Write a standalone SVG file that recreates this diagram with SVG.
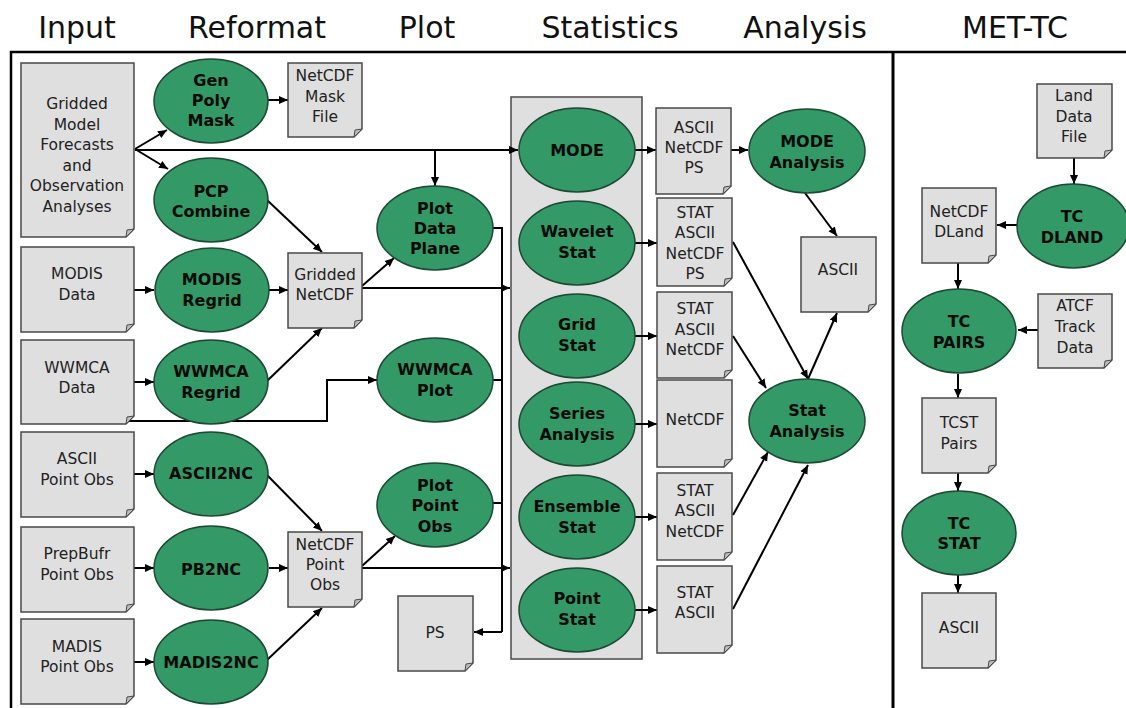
<svg xmlns="http://www.w3.org/2000/svg" width="1126" height="708" viewBox="0 0 1126 708">
<defs>
<style>
.doc{fill:#dfdfdf;stroke:#4a4a4a;stroke-width:1.5}
.fold{fill:#bdbdbd;stroke:#4a4a4a;stroke-width:1}
.proc{fill:#339966;stroke:#1d4a33;stroke-width:1.5}
.box{fill:#dfdfdf;stroke:#4a4a4a;stroke-width:1.5}
.t{font-family:"DejaVu Sans",Verdana,sans-serif;font-size:15.5px;fill:#222;text-anchor:middle}
.b{font-family:"DejaVu Sans",Verdana,sans-serif;font-size:16px;font-weight:bold;fill:#0a0a0a;text-anchor:middle}
.h{font-family:"DejaVu Sans",Verdana,sans-serif;font-size:30px;fill:#111;text-anchor:middle}
.c{fill:none;stroke:#000;stroke-width:2}
.ca{fill:none;stroke:#000;stroke-width:2;marker-end:url(#ah)}
.frame{fill:none;stroke:#000;stroke-width:2.5}
</style>
<marker id="ah" markerWidth="10" markerHeight="10" refX="9" refY="5" orient="auto" markerUnits="userSpaceOnUse">
<path d="M0,1 L9,5 L0,9 z" fill="#000"/>
</marker>
</defs>
<rect width="1126" height="708" fill="#fff"/>

<g id="headers">
<text class="h" x="77" y="38">Input</text>
<text class="h" x="257" y="38">Reformat</text>
<text class="h" x="427" y="38">Plot</text>
<text class="h" x="610" y="38">Statistics</text>
<text class="h" x="805" y="38">Analysis</text>
<text class="h" x="1015" y="38">MET-TC</text>
</g>

<g id="frame">
<path class="frame" d="M11,708 V52 H1126"/>
<path d="M893,52 V708" stroke="#000" stroke-width="3" fill="none"/>
</g>

<g id="stats-container">
<rect class="box" x="511" y="97" width="131" height="562"/>
</g>

<g id="connectors">
<path class="ca" d="M135,149 L167,130"/>
<path class="ca" d="M135,149 L168,169"/>
<path class="ca" d="M135,150 H518"/>
<path class="ca" d="M435,150 V186"/>
<path class="ca" d="M268,100 H288"/>
<path class="ca" d="M267,200 L322,252"/>
<path class="ca" d="M134,290 H154"/>
<path class="ca" d="M269,290 H288"/>
<path class="ca" d="M267,381 L322,328"/>
<path class="ca" d="M362,286 L394,258"/>
<path class="ca" d="M362,288 H510"/>
<path class="ca" d="M134,382 H154"/>
<path class="ca" d="M129,421 H327 V380 H377"/>
<path class="c" d="M493,228 H502 V632"/>
<path class="c" d="M493,380 H502"/>
<path class="c" d="M493,503 H502"/>
<path class="ca" d="M502,632 H474"/>
<path class="ca" d="M134,474 H154"/>
<path class="ca" d="M134,568 H154"/>
<path class="ca" d="M134,662 H154"/>
<path class="ca" d="M267,475 L322,531"/>
<path class="ca" d="M269,568 H288"/>
<path class="ca" d="M267,660 L322,608"/>
<path class="ca" d="M362,566 L395,536"/>
<path class="ca" d="M362,568 H510"/>
<path class="ca" d="M635,150 H656"/>
<path class="ca" d="M635,243 H657"/>
<path class="ca" d="M635,336 H657"/>
<path class="ca" d="M635,424 H657"/>
<path class="ca" d="M635,517 H657"/>
<path class="ca" d="M635,610 H657"/>
<path class="ca" d="M731,150 H748"/>
<path class="ca" d="M805,193 L837,236"/>
<path class="ca" d="M808,379 L837,313"/>
<path class="ca" d="M733,242 L808,379"/>
<path class="ca" d="M733,336 L766,388"/>
<path class="ca" d="M733,515 L768,452"/>
<path class="ca" d="M733,609 L808,465"/>
<path class="ca" d="M1074,158 V184"/>
<path class="ca" d="M1017,225 H997"/>
<path class="ca" d="M958,263 V289"/>
<path class="ca" d="M1038,330 H1018"/>
<path class="ca" d="M958,374 V398"/>
<path class="ca" d="M958,473 V491"/>
<path class="ca" d="M958,575 V593"/>
</g>

<g id="n-gridded">
<path class="doc" d="M21,63 H134 V229 L126,237 H21 Z"/><path class="fold" d="M134,229 L126,237 L127,230 Z"/>
<text class="t" x="77" y="109">Gridded</text><text class="t" x="77" y="130">Model</text><text class="t" x="77" y="150">Forecasts</text><text class="t" x="77" y="171">and</text><text class="t" x="77" y="191">Observation</text><text class="t" x="77" y="212">Analyses</text>
</g>
<g id="n-modis-data">
<path class="doc" d="M21,247 H134 V324 L126,332 H21 Z"/><path class="fold" d="M134,324 L126,332 L127,325 Z"/>
<text class="t" x="77" y="279">MODIS</text><text class="t" x="77" y="300">Data</text>
</g>
<g id="n-wwmca-data">
<path class="doc" d="M21,340 H134 V416 L126,424 H21 Z"/><path class="fold" d="M134,416 L126,424 L127,417 Z"/>
<text class="t" x="77" y="373">WWMCA</text><text class="t" x="77" y="393">Data</text>
</g>
<g id="n-ascii-obs">
<path class="doc" d="M21,432 H134 V509 L126,517 H21 Z"/><path class="fold" d="M134,509 L126,517 L127,510 Z"/>
<text class="t" x="77" y="464">ASCII</text><text class="t" x="77" y="485">Point Obs</text>
</g>
<g id="n-prepbufr">
<path class="doc" d="M21,527 H134 V604 L126,612 H21 Z"/><path class="fold" d="M134,604 L126,612 L127,605 Z"/>
<text class="t" x="77" y="559">PrepBufr</text><text class="t" x="77" y="580">Point Obs</text>
</g>
<g id="n-madis">
<path class="doc" d="M21,619 H134 V696 L126,704 H21 Z"/><path class="fold" d="M134,696 L126,704 L127,697 Z"/>
<text class="t" x="77" y="652">MADIS</text><text class="t" x="77" y="672">Point Obs</text>
</g>

<g id="n-genpoly"><ellipse class="proc" cx="211" cy="101" rx="57" ry="42"/>
<text class="b" x="211" y="86">Gen</text><text class="b" x="211" y="106">Poly</text><text class="b" x="211" y="126">Mask</text></g>
<g id="n-pcp"><ellipse class="proc" cx="211" cy="200" rx="57" ry="42"/>
<text class="b" x="211" y="197">PCP</text><text class="b" x="211" y="217">Combine</text></g>
<g id="n-modis-regrid"><ellipse class="proc" cx="212" cy="290" rx="57" ry="42"/>
<text class="b" x="212" y="285">MODIS</text><text class="b" x="212" y="306">Regrid</text></g>
<g id="n-wwmca-regrid"><ellipse class="proc" cx="211" cy="382" rx="57" ry="42"/>
<text class="b" x="211" y="377">WWMCA</text><text class="b" x="211" y="398">Regrid</text></g>
<g id="n-ascii2nc"><ellipse class="proc" cx="211" cy="474" rx="57" ry="42"/>
<text class="b" x="211" y="479">ASCII2NC</text></g>
<g id="n-pb2nc"><ellipse class="proc" cx="211" cy="568" rx="57" ry="42"/>
<text class="b" x="211" y="575">PB2NC</text></g>
<g id="n-madis2nc"><ellipse class="proc" cx="211" cy="662" rx="57" ry="42"/>
<text class="b" x="211" y="668">MADIS2NC</text></g>

<g id="n-maskfile">
<path class="doc" d="M288,63 H362 V129 L354,137 H288 Z"/><path class="fold" d="M362,129 L354,137 L355,130 Z"/>
<text class="t" x="325" y="81">NetCDF</text><text class="t" x="325" y="102">Mask</text><text class="t" x="325" y="122">File</text>
</g>
<g id="n-gridded-netcdf">
<path class="doc" d="M288,253 H362 V320 L354,328 H288 Z"/><path class="fold" d="M362,320 L354,328 L355,321 Z"/>
<text class="t" x="325" y="280">Gridded</text><text class="t" x="325" y="300">NetCDF</text>
</g>
<g id="n-point-netcdf">
<path class="doc" d="M288,532 H362 V599 L354,607 H288 Z"/><path class="fold" d="M362,599 L354,607 L355,600 Z"/>
<text class="t" x="325" y="550">NetCDF</text><text class="t" x="325" y="570">Point</text><text class="t" x="325" y="590">Obs</text>
</g>

<g id="n-plot-data-plane"><ellipse class="proc" cx="435" cy="228" rx="58" ry="42"/>
<text class="b" x="435" y="214">Plot</text><text class="b" x="435" y="234">Data</text><text class="b" x="435" y="254">Plane</text></g>
<g id="n-wwmca-plot"><ellipse class="proc" cx="435" cy="380" rx="58" ry="42"/>
<text class="b" x="435" y="375">WWMCA</text><text class="b" x="435" y="396">Plot</text></g>
<g id="n-plot-point-obs"><ellipse class="proc" cx="435" cy="505" rx="58" ry="42"/>
<text class="b" x="435" y="491">Plot</text><text class="b" x="435" y="511">Point</text><text class="b" x="435" y="532">Obs</text></g>
<g id="n-ps">
<path class="doc" d="M398,596 H473 V663 L465,671 H398 Z"/><path class="fold" d="M473,663 L465,671 L466,664 Z"/>
<text class="t" x="435" y="638">PS</text>
</g>

<g id="n-mode"><ellipse class="proc" cx="577" cy="150" rx="58" ry="42"/>
<text class="b" x="577" y="156">MODE</text></g>
<g id="n-wavelet"><ellipse class="proc" cx="577" cy="243" rx="58" ry="42"/>
<text class="b" x="577" y="237">Wavelet</text><text class="b" x="577" y="258">Stat</text></g>
<g id="n-grid-stat"><ellipse class="proc" cx="577" cy="336" rx="58" ry="42"/>
<text class="b" x="577" y="330">Grid</text><text class="b" x="577" y="351">Stat</text></g>
<g id="n-series"><ellipse class="proc" cx="577" cy="424" rx="58" ry="42"/>
<text class="b" x="577" y="419">Series</text><text class="b" x="577" y="440">Analysis</text></g>
<g id="n-ensemble"><ellipse class="proc" cx="577" cy="517" rx="58" ry="42"/>
<text class="b" x="577" y="512">Ensemble</text><text class="b" x="577" y="533">Stat</text></g>
<g id="n-point-stat"><ellipse class="proc" cx="577" cy="610" rx="58" ry="42"/>
<text class="b" x="577" y="604">Point</text><text class="b" x="577" y="625">Stat</text></g>

<g id="n-out-mode">
<path class="doc" d="M656,108 H731 V186 L723,194 H656 Z"/><path class="fold" d="M731,186 L723,194 L724,187 Z"/>
<text class="t" x="694" y="133">ASCII</text><text class="t" x="694" y="153">NetCDF</text><text class="t" x="694" y="173">PS</text>
</g>
<g id="n-out-wavelet">
<path class="doc" d="M657,198 H732 V278 L724,286 H657 Z"/><path class="fold" d="M732,278 L724,286 L725,279 Z"/>
<text class="t" x="695" y="218">STAT</text><text class="t" x="695" y="238">ASCII</text><text class="t" x="695" y="259">NetCDF</text><text class="t" x="695" y="279">PS</text>
</g>
<g id="n-out-grid">
<path class="doc" d="M657,292 H732 V370 L724,378 H657 Z"/><path class="fold" d="M732,370 L724,378 L725,371 Z"/>
<text class="t" x="695" y="314">STAT</text><text class="t" x="695" y="335">ASCII</text><text class="t" x="695" y="355">NetCDF</text>
</g>
<g id="n-out-series">
<path class="doc" d="M657,380 H732 V459 L724,467 H657 Z"/><path class="fold" d="M732,459 L724,467 L725,460 Z"/>
<text class="t" x="695" y="425">NetCDF</text>
</g>
<g id="n-out-ensemble">
<path class="doc" d="M657,473 H732 V552 L724,560 H657 Z"/><path class="fold" d="M732,552 L724,560 L725,553 Z"/>
<text class="t" x="695" y="496">STAT</text><text class="t" x="695" y="516">ASCII</text><text class="t" x="695" y="537">NetCDF</text>
</g>
<g id="n-out-point">
<path class="doc" d="M657,566 H732 V645 L724,653 H657 Z"/><path class="fold" d="M732,645 L724,653 L725,646 Z"/>
<text class="t" x="695" y="598">STAT</text><text class="t" x="695" y="618">ASCII</text>
</g>

<g id="n-mode-analysis"><ellipse class="proc" cx="807" cy="151" rx="58" ry="42"/>
<text class="b" x="807" y="147">MODE</text><text class="b" x="807" y="168">Analysis</text></g>
<g id="n-ascii-analysis">
<path class="doc" d="M801,237 H876 V304 L868,312 H801 Z"/><path class="fold" d="M876,304 L868,312 L869,305 Z"/>
<text class="t" x="838" y="275">ASCII</text>
</g>
<g id="n-stat-analysis"><ellipse class="proc" cx="807" cy="421" rx="58" ry="42"/>
<text class="b" x="807" y="416">Stat</text><text class="b" x="807" y="437">Analysis</text></g>

<g id="n-land">
<path class="doc" d="M1037,84 H1112 V150 L1104,158 H1037 Z"/><path class="fold" d="M1112,150 L1104,158 L1105,151 Z"/>
<text class="t" x="1074" y="101">Land</text><text class="t" x="1074" y="122">Data</text><text class="t" x="1074" y="142">File</text>
</g>
<g id="n-tc-dland"><ellipse class="proc" cx="1073" cy="226" rx="56" ry="42"/>
<text class="b" x="1072" y="222">TC</text><text class="b" x="1072" y="243">DLAND</text></g>
<g id="n-dland">
<path class="doc" d="M922,188 H996 V255 L988,263 H922 Z"/><path class="fold" d="M996,255 L988,263 L989,256 Z"/>
<text class="t" x="959" y="217">NetCDF</text><text class="t" x="959" y="237">DLand</text>
</g>
<g id="n-tc-pairs"><ellipse class="proc" cx="959" cy="331" rx="57" ry="42"/>
<text class="b" x="959" y="327">TC</text><text class="b" x="959" y="348">PAIRS</text></g>
<g id="n-atcf">
<path class="doc" d="M1038,294 H1112 V360 L1104,368 H1038 Z"/><path class="fold" d="M1112,360 L1104,368 L1105,361 Z"/>
<text class="t" x="1075" y="311">ATCF</text><text class="t" x="1075" y="332">Track</text><text class="t" x="1075" y="353">Data</text>
</g>
<g id="n-tcst">
<path class="doc" d="M922,398 H996 V465 L988,473 H922 Z"/><path class="fold" d="M996,465 L988,473 L989,466 Z"/>
<text class="t" x="959" y="428">TCST</text><text class="t" x="959" y="449">Pairs</text>
</g>
<g id="n-tc-stat"><ellipse class="proc" cx="959" cy="533" rx="57" ry="42"/>
<text class="b" x="959" y="529">TC</text><text class="b" x="959" y="549">STAT</text></g>
<g id="n-tc-ascii">
<path class="doc" d="M922,593 H996 V660 L988,668 H922 Z"/><path class="fold" d="M996,660 L988,668 L989,661 Z"/>
<text class="t" x="959" y="633">ASCII</text>
</g>
</svg>
